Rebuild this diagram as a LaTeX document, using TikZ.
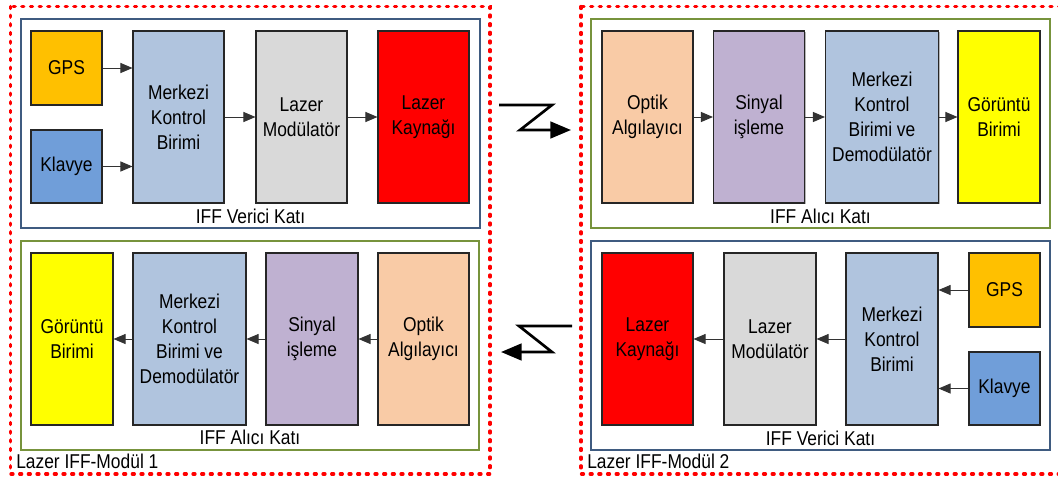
\documentclass[tikz,border=0pt]{standalone}
\usepackage{fontspec}
\setmainfont{Liberation Sans}[FakeStretch=0.87]
\usetikzlibrary{arrows.meta,shadows}

\definecolor{cgps}{HTML}{FFC000}
\definecolor{ckey}{HTML}{709ED9}
\definecolor{cmcu}{HTML}{B0C4DE}
\definecolor{cmod}{HTML}{D9D9D9}
\definecolor{csrc}{HTML}{FF0000}
\definecolor{copt}{HTML}{F9CBA6}
\definecolor{csig}{HTML}{BFB1D1}
\definecolor{cdsp}{HTML}{FFFF00}
\definecolor{ctx}{HTML}{3F5B80}
\definecolor{crx}{HTML}{77933C}

\begin{document}
\begin{tikzpicture}[x=0.75pt,y=-0.75pt,
  wh/.style 2 args={minimum width={#1*0.75pt}, minimum height={#2*0.75pt}},
  blk/.style={draw=black!85, line width=0.8pt, align=center, inner sep=0pt,
    font=\fontsize{15pt}{18.75pt}\selectfont,
    drop shadow={shadow xshift=1.1pt, shadow yshift=-1.1pt, opacity=0.4, fill=black!70}},
  flow/.style={-{Triangle[length=9pt,width=7.5pt]}, draw=black!80, line width=0.7pt},
  bolt/.style={-{Triangle[length=15.5pt,width=12.5pt]}, line width=2pt, line join=miter},
  modframe/.style={draw=red, line width=2.5pt, line cap=round, dash pattern=on 1.5pt off 5pt},
  txframe/.style={draw=ctx, line width=1.4pt},
  rxframe/.style={draw=crx, line width=1.2pt},
  lbl/.style={inner sep=0pt, font=\fontsize{15pt}{18pt}\selectfont}
]
\useasboundingbox (0,0) rectangle (1058,479);
\clip (0,0) rectangle (1058,479);

% module outlines
\draw[modframe] (10.5,6.5) rectangle (490,474);
\draw[modframe] (581,6.5) rectangle (1064,474);

% stage outlines
\draw[txframe] (21,19) rectangle (480,228);
\draw[rxframe] (21,241) rectangle (479,450);
\draw[rxframe] (591,19) rectangle (1050,228);
\draw[txframe] (591,241) rectangle (1050,450);

% ---- Module 1: transmitter ----
\node[blk, fill=cgps, wh={71}{74}] (gps1) at (66.5,68) {GPS};
\node[blk, fill=ckey, wh={71}{73}] (key1) at (66.5,166.5) {Klavye};
\node[blk, fill=cmcu, wh={91}{172}] (mcu1) at (178.5,117) {Merkezi\\Kontrol\\Birimi};
\node[blk, fill=cmod, wh={91}{172}] (mod1) at (301.5,117) {Lazer\\Modülatör};
\node[blk, fill=csrc, wh={91}{172}] (src1) at (423.5,117) {Lazer\\Kaynağı};
\node[lbl] (tx1) at (250.5,216) {IFF Verici Katı};

\draw[flow] (gps1.east) -- (gps1.east -| mcu1.west);
\draw[flow] (key1.east) -- (key1.east -| mcu1.west);
\draw[flow] (mcu1.east) -- (mod1.west);
\draw[flow] (mod1.east) -- (src1.west);

% ---- Module 1: receiver ----
\node[blk, fill=cdsp, wh={82}{172}] (dsp1) at (72,339) {Görüntü\\Birimi};
\node[blk, fill=cmcu, wh={113}{172}] (dem1) at (189.5,339) {Merkezi\\Kontrol\\Birimi ve\\Demodülatör};
\node[blk, fill=csig, wh={92}{172}] (sig1) at (312,339) {Sinyal\\işleme};
\node[blk, fill=copt, wh={91}{172}] (opt1) at (423.5,339) {Optik\\Algılayıcı};
\node[lbl] (rx1) at (250,437) {IFF Alıcı Katı};

\draw[flow] (opt1.west) -- (sig1.east);
\draw[flow] (sig1.west) -- (dem1.east);
\draw[flow] (dem1.west) -- (dsp1.east);

\node[lbl, anchor=west] (m1) at (16,461) {Lazer IFF-Modül 1};

% ---- Module 2: receiver ----
\node[blk, fill=copt, wh={91}{172}] (opt2) at (647.5,117) {Optik\\Algılayıcı};
\node[blk, fill=csig, wh={91}{172}] (sig2) at (759,117) {Sinyal\\işleme};
\node[blk, fill=cmcu, wh={113}{172}] (dem2) at (882,117) {Merkezi\\Kontrol\\Birimi ve\\Demodülatör};
\node[blk, fill=cdsp, wh={82}{172}] (dsp2) at (999,117) {Görüntü\\Birimi};
\node[lbl] (rx2) at (820.5,216) {IFF Alıcı Katı};

\draw[flow] (opt2.east) -- (sig2.west);
\draw[flow] (sig2.east) -- (dem2.west);
\draw[flow] (dem2.east) -- (dsp2.west);

% ---- Module 2: transmitter ----
\node[blk, fill=csrc, wh={91}{172}] (src2) at (647.5,339) {Lazer\\Kaynağı};
\node[blk, fill=cmod, wh={92}{172}] (mod2) at (770,339) {Lazer\\Modülatör};
\node[blk, fill=cmcu, wh={92}{172}] (mcu2) at (892,339) {Merkezi\\Kontrol\\Birimi};
\node[blk, fill=cgps, wh={71}{74}] (gps2) at (1004.5,290) {GPS};
\node[blk, fill=ckey, wh={71}{73}] (key2) at (1004.5,388.5) {Klavye};
\node[lbl] (tx2) at (820.5,438) {IFF Verici Katı};

\draw[flow] (gps2.west) -- (gps2.west -| mcu2.east);
\draw[flow] (key2.west) -- (key2.west -| mcu2.east);
\draw[flow] (mcu2.west) -- (mod2.east);
\draw[flow] (mod2.west) -- (src2.east);

\node[lbl, anchor=west] (m2) at (587,461) {Lazer IFF-Modül 2};

% ---- optical links between the modules ----
\coordinate (a0) at (499,105);
\coordinate (a1) at (552,105);
\coordinate (a2) at (520,130);
\coordinate (a3) at (571,130);
\draw[bolt] (a0) -- (a1) -- (a2) -- (a3);

\coordinate (b0) at (572,326);
\coordinate (b1) at (519,326);
\coordinate (b2) at (552,352);
\coordinate (b3) at (501,352);
\draw[bolt] (b0) -- (b1) -- (b2) -- (b3);
\end{tikzpicture}
\end{document}
